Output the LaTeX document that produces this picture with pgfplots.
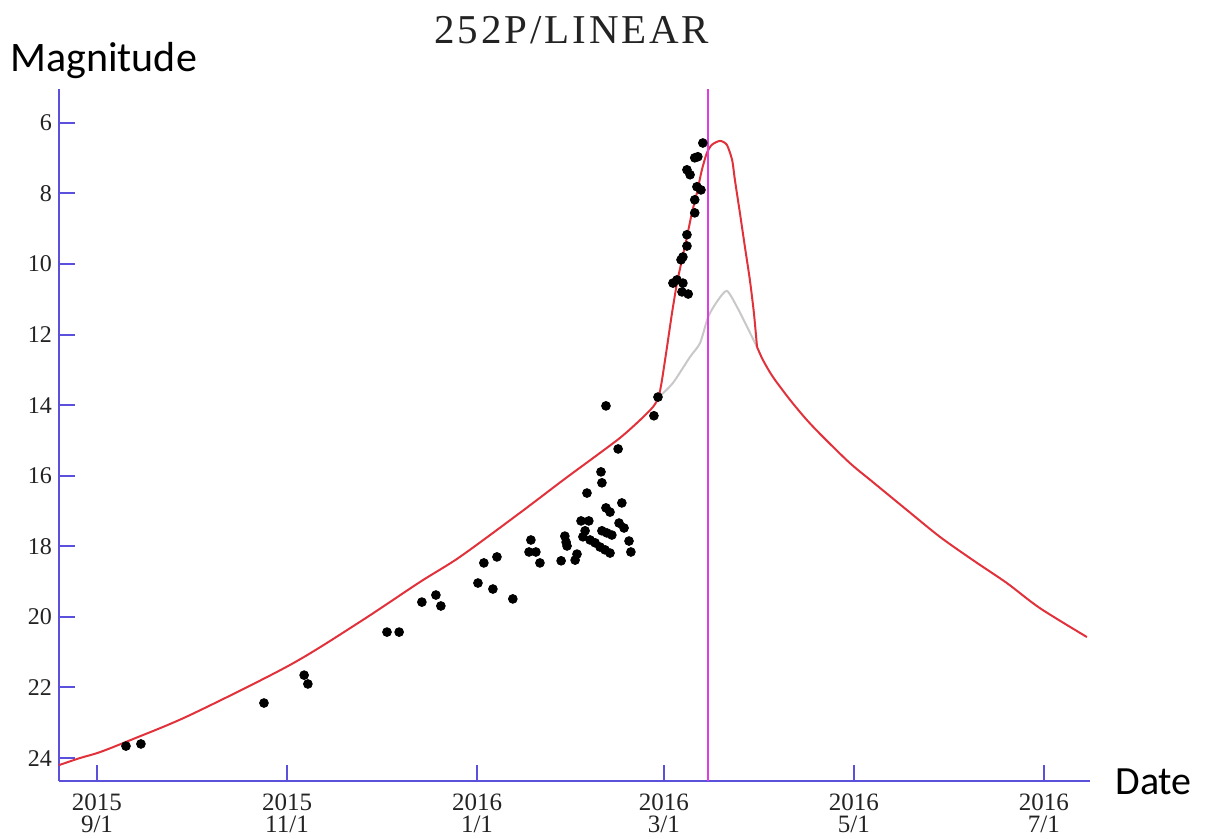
\documentclass[border=0pt]{standalone}
\usepackage{fontspec}
\setmainfont{Liberation Serif}
\newfontfamily\labelfont{Carlito}
\usepackage{pgfplots}
\pgfplotsset{compat=1.18}

\definecolor{axisblue}{RGB}{90,80,220}
\definecolor{curvered}{RGB}{225,50,60}
\definecolor{peakline}{RGB}{225,60,225}
\definecolor{ghost}{RGB}{200,200,200}
\definecolor{ticktext}{RGB}{35,35,35}

\begin{document}
\begin{tikzpicture}
\path[use as bounding box] (-29.5pt,-29pt) rectangle (577.5pt,390.5pt);
\begin{axis}[
  scale only axis, width=515.5pt, height=346pt,
  xmin=-12.2, xmax=318.8, ymin=5.04, ymax=24.65,
  y dir=reverse,
  axis lines*=left,
  axis line style={axisblue, line width=1pt},
  tick align=inside,
  tick style={axisblue, line width=1pt},
  major tick length=8pt,
  xtick={0,61,122,182,243,304},
  xticklabels={2015\\9/1, 2015\\11/1, 2016\\1/1, 2016\\3/1, 2016\\5/1, 2016\\7/1},
  ytick={6,8,...,24},
  xticklabel style={align=center, yshift=-3pt, font=\fontsize{12.5}{11}\selectfont, text=ticktext},
  yticklabel style={font=\fontsize{12}{12}\selectfont, text=ticktext},
  /pgf/number format/assume math mode=true,
  clip=false,
]
% model without outburst
\addplot[ghost, line width=1pt, smooth, tension=0.4] coordinates {
  (180.4,13.77) (184.9,13.37) (190.4,12.63) (193.6,12.24) (196.2,11.50)
  (199.0,11.07) (202.2,10.76) (205.5,11.22) (208.7,11.78) (211.9,12.35)
};
% light curve model: pre-outburst, outburst, decline
\addplot[curvered, line width=1pt, smooth, tension=0.5] coordinates {
  (-12.2,24.20) (-5.5,24.00) (1.0,23.83) (11.6,23.46) (29.9,22.78)
  (62.0,21.36) (84.4,20.14) (103.7,19.01) (116.5,18.30) (135.8,17.05)
  (150.0,16.10) (160.0,15.45) (168.0,14.92) (174.0,14.45) (178.5,14.05)
  (180.4,13.77)
};
\addplot[curvered, line width=1pt, smooth, tension=0.4] coordinates {
  (180.4,13.77) (181.4,13.28)
  (183.0,12.35) (184.6,11.39) (186.2,10.54) (187.8,9.88) (189.4,9.23)
  (191.0,8.55) (192.6,7.98) (194.2,7.33) (195.8,6.85) (197.4,6.62)
  (200.0,6.51) (202.2,6.62) (203.9,7.05) (204.8,7.62) (206.4,8.55)
  (208.0,9.51) (209.6,10.45) (210.9,11.39) (211.9,12.35)
};
\addplot[curvered, line width=1pt, smooth, tension=0.5] coordinates {
  (211.9,12.35) (213.8,12.72)
  (217.0,13.20) (222.5,13.85) (227.9,14.42) (233.1,14.90) (241.7,15.64)
  (249.1,16.18) (260.0,16.97) (270.6,17.73) (281.2,18.39) (292.1,19.04)
  (302.7,19.75) (317.8,20.57)
};
% vertical marker
\addplot[peakline, line width=1pt] coordinates {(196.2,5.04) (196.2,24.65)};
% observations
\addplot[only marks, mark=*, mark size=2.2pt, black] coordinates {
  (9.3,23.66) (14.1,23.60) (53.6,22.44) (66.5,21.65) (67.7,21.90)
  (93.1,20.43) (97.0,20.43) (104.3,19.58) (108.8,19.38) (110.4,19.69)
  (122.3,19.04) (124.2,18.47) (127.1,19.21) (128.4,18.30) (133.5,19.49)
  (139.3,17.82) (138.7,18.16) (140.9,18.16) (142.2,18.47) (149.0,18.41)
  (150.2,17.71) (150.6,17.88) (150.9,17.99) (153.5,18.39) (154.1,18.22)
  (155.4,17.28) (157.9,17.28) (156.0,17.73) (156.7,17.56) (158.3,17.82)
  (159.9,17.90) (161.5,18.02) (163.1,18.10) (164.7,18.19) (162.1,17.56)
  (163.7,17.62) (165.3,17.68) (157.3,16.49) (161.8,15.89) (162.1,16.20)
  (163.4,16.91) (164.7,17.03) (168.5,16.77) (167.6,17.34) (169.2,17.48)
  (170.8,17.85) (171.4,18.16) (163.4,14.02) (167.3,15.24) (178.8,14.30)
  (180.1,13.77) (194.5,6.57) (191.9,6.99) (192.9,6.96) (189.4,7.33)
  (190.4,7.47) (192.6,7.81) (193.9,7.90) (191.9,8.18) (191.9,8.55)
  (189.4,9.17) (189.4,9.49) (188.1,9.80) (187.5,9.88) (186.2,10.45)
  (184.9,10.54) (188.1,10.54) (187.8,10.79) (189.8,10.85)
};
\end{axis}
\node[anchor=base, inner sep=0, text=ticktext] at (256.5pt,368.5pt)
  {\fontsize{20.5}{20}\selectfont\addfontfeature{LetterSpace=7}252P/LINEAR};
\node[anchor=base west, inner sep=0] at (-24.5pt,354.5pt)
  {\labelfont\fontsize{21}{21}\selectfont Magnitude};
\node[anchor=base west, inner sep=0] at (528pt,-7pt)
  {\labelfont\fontsize{20}{20}\selectfont Date};
\end{tikzpicture}
\end{document}
